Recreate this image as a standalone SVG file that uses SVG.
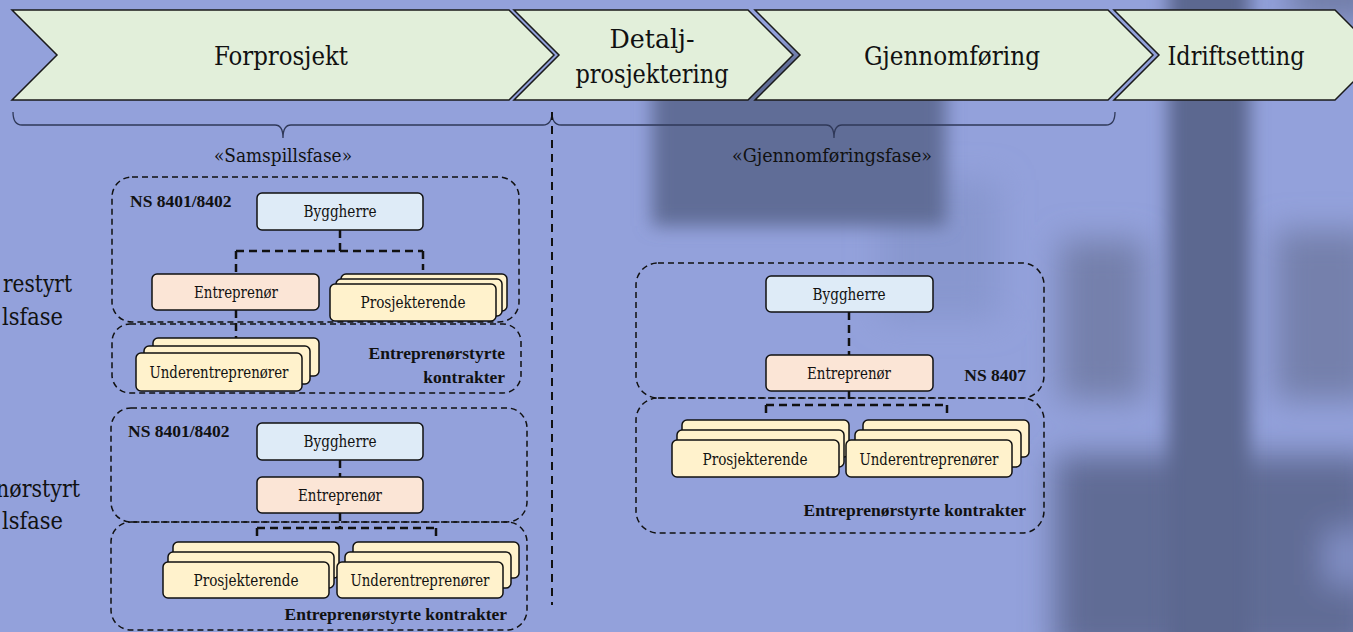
<svg xmlns="http://www.w3.org/2000/svg" width="1353" height="632" viewBox="0 0 1353 632">
  <style>
    text { fill: #111; }
    .serif { font-family: 'DejaVu Serif Condensed', 'DejaVu Serif', serif; font-stretch: condensed; }
    .bold { font-family: 'Liberation Serif', 'Times New Roman', serif; font-weight: bold; font-size: 17.5px; }
    .chev { fill: #e2efda; stroke: #1a1a1a; stroke-width: 1.5; stroke-linejoin: miter; }
    .chev-label { font-size: 26.5px; text-anchor: middle; }
    .phase { font-size: 18.5px; text-anchor: middle; }
    .side { font-size: 25px; text-anchor: end; }
    .brace { fill: none; stroke: #2f3858; stroke-width: 1.3; }
    .group { fill: none; stroke: #111; stroke-width: 1.5; stroke-dasharray: 6 4; }
    .link { fill: none; stroke: #111; stroke-width: 2.5; stroke-dasharray: 8 5; }
    .sep { fill: none; stroke: #111; stroke-width: 2; stroke-dasharray: 8 6; }
    .box { stroke: #111; stroke-width: 1.5; }
    .owner { fill: #deebf7; }
    .contractor { fill: #fbe5d6; }
    .party { fill: #fff2cc; }
    .lbl { font-size: 16.5px; text-anchor: middle; }
  </style>
  <defs>
    <filter id="soft" x="-30%" y="-30%" width="160%" height="160%">
      <feGaussianBlur stdDeviation="16"/>
    </filter>
    <filter id="soft-near" x="-30%" y="-30%" width="160%" height="160%">
      <feGaussianBlur stdDeviation="9"/>
    </filter>
  </defs>

  <!-- blurred photographic backdrop -->
  <g id="backdrop">
    <rect x="0" y="0" width="1353" height="632" fill="#93a1db"/>
    <g filter="url(#soft)">
      <rect x="880" y="180" width="120" height="140" fill="#8897cf"/>
      <rect x="1060" y="240" width="85" height="160" fill="#7480ac"/>
      <rect x="1275" y="230" width="100" height="170" fill="#7480ac"/>
      <rect x="1055" y="455" width="320" height="200" fill="#616c95"/>
      <rect x="1290" y="-30" width="90" height="50" fill="#6f7ba6"/>
      <rect x="1325" y="530" width="40" height="55" fill="#8391c8"/>
    </g>
    <g filter="url(#soft-near)">
      <rect x="652" y="50" width="294" height="176" fill="#616d97"/>
      <rect x="1168" y="-40" width="82" height="720" fill="#5c6790"/>
    </g>
  </g>

  <!-- phase chevrons -->
  <g id="chevron-forprosjekt">
    <path class="chev" d="M12,10 L509,10 L554,55 L509,100 L12,100 L57,55 Z"/>
    <text class="serif chev-label" x="281" y="65" textLength="134" lengthAdjust="spacingAndGlyphs">Forprosjekt</text>
  </g>
  <g id="chevron-detaljprosjektering">
    <path class="chev" d="M514,10 L748,10 L793,55 L748,100 L514,100 L559,55 Z"/>
    <text class="serif chev-label" x="652" y="48" textLength="85" lengthAdjust="spacingAndGlyphs">Detalj-</text>
    <text class="serif chev-label" x="652" y="83" textLength="153" lengthAdjust="spacingAndGlyphs">prosjektering</text>
  </g>
  <g id="chevron-gjennomforing">
    <path class="chev" d="M755,10 L1108,10 L1153,55 L1108,100 L755,100 L800,55 Z"/>
    <text class="serif chev-label" x="952" y="65" textLength="176" lengthAdjust="spacingAndGlyphs">Gjennomføring</text>
  </g>
  <g id="chevron-idriftsetting">
    <path class="chev" d="M1114,10 L1335,10 L1380,55 L1335,100 L1114,100 L1159,55 Z"/>
    <text class="serif chev-label" x="1236" y="65" textLength="137" lengthAdjust="spacingAndGlyphs">Idriftsetting</text>
  </g>

  <!-- phase braces -->
  <g id="braces">
    <path class="brace" d="M13,112 Q13,125 22,125 L275,125 Q283,125 283,138 Q283,125 291,125 L543,125 Q552,125 552,112"/>
    <path class="brace" d="M552,112 Q552,125 561,125 L826,125 Q834,125 834,138 Q834,125 842,125 L1106,125 Q1115,125 1115,112"/>
    <text class="serif phase" x="283" y="162" textLength="138" lengthAdjust="spacingAndGlyphs">«Samspillsfase»</text>
    <text class="serif phase" x="832" y="162" textLength="200" lengthAdjust="spacingAndGlyphs">«Gjennomføringsfase»</text>
  </g>

  <!-- side labels, cut off at the left edge -->
  <g id="side-labels">
    <text class="serif side" x="72" y="292" textLength="69" lengthAdjust="spacingAndGlyphs">restyrt</text>
    <text class="serif side" x="63" y="325" textLength="61" lengthAdjust="spacingAndGlyphs">lsfase</text>
    <text class="serif side" x="80" y="497" textLength="84" lengthAdjust="spacingAndGlyphs">nørstyrt</text>
    <text class="serif side" x="63" y="529" textLength="61" lengthAdjust="spacingAndGlyphs">lsfase</text>
  </g>

  <!-- phase separator -->
  <line id="separator" class="sep" x1="552" y1="112" x2="552" y2="605"/>

  <!-- contract groups -->
  <g id="group-a-ns">
    <rect class="group" x="112" y="177" width="407" height="145" rx="20"/>
    <text class="bold" x="130" y="207">NS 8401/8402</text>
  </g>
  <g id="group-a-ek">
    <rect class="group" x="112" y="324" width="409" height="69" rx="18"/>
    <text class="bold" x="505" y="359" text-anchor="end">Entreprenørstyrte</text>
    <text class="bold" x="505" y="383" text-anchor="end">kontrakter</text>
  </g>
  <g id="group-b-ns">
    <rect class="group" x="111" y="408" width="416" height="114" rx="20"/>
    <text class="bold" x="128" y="437">NS 8401/8402</text>
  </g>
  <g id="group-b-ek">
    <rect class="group" x="111" y="522" width="416" height="108" rx="20"/>
    <text class="bold" x="507" y="620" text-anchor="end">Entreprenørstyrte kontrakter</text>
  </g>
  <g id="group-c-ns">
    <rect class="group" x="636" y="263" width="408" height="135" rx="22"/>
    <text class="bold" x="1026" y="381" text-anchor="end">NS 8407</text>
  </g>
  <g id="group-c-ek">
    <rect class="group" x="636" y="398" width="408" height="135" rx="22"/>
    <text class="bold" x="1026" y="516" text-anchor="end">Entreprenørstyrte kontrakter</text>
  </g>

  <!-- connectors -->
  <g id="connectors">
    <path class="link" d="M340,230 V251 M236,251 H423 M236,251 V274 M423,251 V270 M236,310 V338"/>
    <path class="link" d="M340,460 V477 M340,513 V528 M257,528 H436 M257,528 V540 M436,528 V540"/>
    <path class="link" d="M849,312 V355 M849,391 V405 M766,405 H947 M766,405 V418 M947,405 V418"/>
  </g>

  <!-- upper-left organisation -->
  <g id="a-byggherre">
    <rect class="box owner" x="257" y="193" width="166" height="37" rx="5"/>
    <text class="serif lbl" x="340" y="217" textLength="73" lengthAdjust="spacingAndGlyphs">Byggherre</text>
  </g>
  <g id="a-entreprenor">
    <rect class="box contractor" x="152" y="274" width="167" height="36" rx="5"/>
    <text class="serif lbl" x="236" y="298" textLength="84" lengthAdjust="spacingAndGlyphs">Entreprenør</text>
  </g>
  <g id="a-prosjekterende">
    <rect class="box party" x="341" y="274" width="166" height="37" rx="5"/>
    <rect class="box party" x="336" y="279" width="166" height="37" rx="5"/>
    <rect class="box party" x="330" y="284" width="166" height="37" rx="5"/>
    <text class="serif lbl" x="413" y="308" textLength="105" lengthAdjust="spacingAndGlyphs">Prosjekterende</text>
  </g>
  <g id="a-underentreprenorer">
    <rect class="box party" x="153" y="338" width="166" height="38" rx="5"/>
    <rect class="box party" x="144" y="346" width="166" height="38" rx="5"/>
    <rect class="box party" x="136" y="353" width="166" height="38" rx="5"/>
    <text class="serif lbl" x="219" y="378" textLength="139" lengthAdjust="spacingAndGlyphs">Underentreprenører</text>
  </g>

  <!-- lower-left organisation -->
  <g id="b-byggherre">
    <rect class="box owner" x="257" y="423" width="166" height="37" rx="5"/>
    <text class="serif lbl" x="340" y="447" textLength="73" lengthAdjust="spacingAndGlyphs">Byggherre</text>
  </g>
  <g id="b-entreprenor">
    <rect class="box contractor" x="257" y="477" width="166" height="36" rx="5"/>
    <text class="serif lbl" x="340" y="501" textLength="84" lengthAdjust="spacingAndGlyphs">Entreprenør</text>
  </g>
  <g id="b-prosjekterende">
    <rect class="box party" x="173" y="542" width="166" height="36" rx="5"/>
    <rect class="box party" x="168" y="552" width="166" height="36" rx="5"/>
    <rect class="box party" x="163" y="562" width="166" height="36" rx="5"/>
    <text class="serif lbl" x="246" y="586" textLength="105" lengthAdjust="spacingAndGlyphs">Prosjekterende</text>
  </g>
  <g id="b-underentreprenorer">
    <rect class="box party" x="353" y="542" width="166" height="36" rx="5"/>
    <rect class="box party" x="345" y="552" width="166" height="36" rx="5"/>
    <rect class="box party" x="337" y="562" width="166" height="36" rx="5"/>
    <text class="serif lbl" x="420" y="586" textLength="139" lengthAdjust="spacingAndGlyphs">Underentreprenører</text>
  </g>

  <!-- right organisation -->
  <g id="c-byggherre">
    <rect class="box owner" x="766" y="276" width="167" height="36" rx="5"/>
    <text class="serif lbl" x="849" y="300" textLength="73" lengthAdjust="spacingAndGlyphs">Byggherre</text>
  </g>
  <g id="c-entreprenor">
    <rect class="box contractor" x="766" y="355" width="167" height="36" rx="5"/>
    <text class="serif lbl" x="849" y="379" textLength="84" lengthAdjust="spacingAndGlyphs">Entreprenør</text>
  </g>
  <g id="c-prosjekterende">
    <rect class="box party" x="682" y="420" width="167" height="37" rx="5"/>
    <rect class="box party" x="677" y="430" width="167" height="37" rx="5"/>
    <rect class="box party" x="672" y="440" width="167" height="37" rx="5"/>
    <text class="serif lbl" x="755" y="465" textLength="105" lengthAdjust="spacingAndGlyphs">Prosjekterende</text>
  </g>
  <g id="c-underentreprenorer">
    <rect class="box party" x="863" y="420" width="166" height="37" rx="5"/>
    <rect class="box party" x="855" y="430" width="166" height="37" rx="5"/>
    <rect class="box party" x="846" y="440" width="166" height="37" rx="5"/>
    <text class="serif lbl" x="929" y="465" textLength="139" lengthAdjust="spacingAndGlyphs">Underentreprenører</text>
  </g>
</svg>
